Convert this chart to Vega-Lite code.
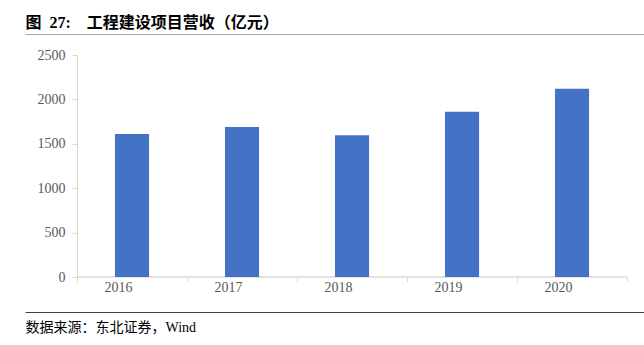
{
  "$schema": "https://vega.github.io/schema/vega-lite/v6.json",
  "autosize": "none",
  "width": 619,
  "height": 222,
  "padding": {"left": 25, "top": 55, "right": 0, "bottom": 68},
  "background": "white",
  "config": {"view": {"stroke": null}},
  "data": {"values": [
    {"year": "2016", "value": 1610},
    {"year": "2017", "value": 1690},
    {"year": "2018", "value": 1595},
    {"year": "2019", "value": 1860},
    {"year": "2020", "value": 2120}
  ]},
  "resolve": {"scale": {"x": "independent"}},
  "layer": [
    {
      "layer": [
        {
          "mark": {"type": "rect", "fill": null, "stroke": "#d9d9d9", "strokeWidth": 1},
          "encoding": {
            "x": {"field": "year", "type": "nominal"},
            "y": {"datum": 0, "type": "quantitative"},
            "y2": {"datum": 0}
          }
        },
        {
          "mark": {"type": "bar", "color": "#4472C4", "width": {"band": 0.31}},
          "encoding": {
            "x": {
              "field": "year", "type": "nominal",
              "scale": {"paddingInner": 0, "paddingOuter": 0.3136, "align": 0.754},
              "axis": {
                "title": null, "domain": false, "labelAngle": 0,
                "ticks": true, "tickBand": "extent", "tickSize": 5, "tickColor": "#d9d9d9",
                "labelFont": "Liberation Serif", "labelFontSize": 14, "labelColor": "#595959",
                "labelPadding": 5, "grid": false
              }
            },
            "y": {
              "field": "value", "type": "quantitative",
              "scale": {"domain": [0, 2500], "nice": false},
              "axis": {
                "title": null, "offset": -52, "values": [0, 500, 1000, 1500, 2000, 2500],
                "format": "d",
                "grid": false, "domainColor": "#d9d9d9", "tickColor": "#d9d9d9", "tickSize": 5,
                "labelFont": "Liberation Serif", "labelFontSize": 14, "labelColor": "#595959",
                "labelPadding": 7
              }
            }
          }
        }
      ]
    },
    {
      "mark": {"type": "point", "opacity": 0, "size": 0},
      "encoding": {
        "x": {
          "field": "year", "type": "nominal",
          "axis": {
            "orient": "top", "offset": 21, "domain": true, "domainColor": "#a6a6a6",
            "ticks": false, "labels": false, "grid": false,
            "title": "图\u200227:\u2002\u2002工程建设项目营收（亿元）",
            "titleFont": "Liberation Serif, Noto Sans CJK SC", "titleFontSize": 16,
            "titleFontWeight": "bold", "titleColor": "#000000",
            "titleAnchor": "start", "titleAlign": "left", "titleX": 0, "titleY": -12,
            "titleBaseline": "middle"
          }
        }
      }
    },
    {
      "mark": {"type": "point", "opacity": 0, "size": 0},
      "encoding": {
        "x": {
          "field": "year", "type": "nominal",
          "axis": {
            "orient": "bottom", "offset": 35, "domain": true, "domainColor": "#404040",
            "ticks": false, "labels": false, "grid": false,
            "title": "数据来源：东北证券，Wind",
            "titleFont": "Liberation Serif, Noto Sans CJK SC", "titleFontSize": 14,
            "titleFontWeight": "normal", "titleColor": "#000000",
            "titleAnchor": "start", "titleAlign": "left", "titleX": 0, "titleY": 15,
            "titleBaseline": "middle"
          }
        }
      }
    }
  ]
}
